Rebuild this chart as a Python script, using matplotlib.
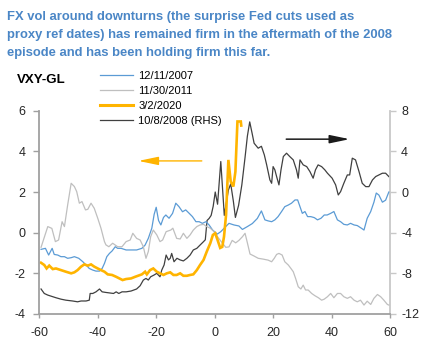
import matplotlib
matplotlib.use("Agg")
import matplotlib.pyplot as plt
from matplotlib import font_manager as fm
from matplotlib.lines import Line2D

# ---------------- data ----------------
title_lines = ["FX vol around downturns (the surprise Fed cuts used as",
               "proxy ref dates) has remained firm in the aftermath of the 2008",
               "episode and has been holding firm this far."]
y_label = "VXY-GL"
legend_labels = ["12/11/2007", "11/30/2011", "3/2/2020", "10/8/2008 (RHS)"]
x_ticks = [-60, -40, -20, 0, 20, 40, 60]
left_ticks = [-4, -2, 0, 2, 4, 6]
right_ticks = [-12, -8, -4, 0, 4, 8]

# 12/11/2007 (LHS)
blue_x = [-59.4, -57.9, -56.8, -55.6, -54.9, -53.7, -52.6, -51.4, -50.3, -49.1, -48, -46.5, -45.1, -44,
          -42.9, -41.7, -40.6, -39.4, -38.5, -37.7, -36.9, -36, -35.1, -34, -33.2, -32, -30.3, -28.6,
          -26.7, -24.9, -23.8, -22.7, -21.5, -20.7, -20, -19.2, -18.4, -17.5, -16.7, -15.6, -14.4, -13.3,
          -12.2, -11, -9.9, -8.7, -7.6, -6.4, -5.3, -4.2, -3, -1.9, -0.7, 0.9, 2.1, 3.8, 4.9, 6.6, 8.3,
          9.5, 11.2, 12.9, 14.6, 16, 17.2, 18.3, 19.5, 20.6, 21.7, 22.9, 24, 25.2, 26.3, 27.5, 28.4,
          29.2, 30, 30.9, 31.8, 32.9, 34.1, 35.2, 36.4, 37.5, 38.5, 39.7, 40.8, 42, 43.1, 44.2, 45.4,
          46.5, 47.7, 48.8, 50.3, 51.1, 52.2, 53.4, 54.5, 55.3, 56.2, 57.4, 58.5, 59.6]
blue_y = [-0.82, -0.77, -1.1, -0.77, -1.07, -1.1, -1.18, -1.18, -1.26, -1.23, -1.18, -1.26, -1.43, -1.59,
          -1.76, -1.84, -1.89, -1.89, -1.76, -1.51, -1.18, -1.02, -0.9, -0.69, -0.77, -0.77, -0.85, -0.85,
          -0.85, -0.77, -0.61, -0.28, 0.22, 0.9, 1.25, 0.6, 0.38, 0.75, 0.87, 0.71, 0.95, 1.45,
          1.28, 1.03, 1.12, 0.95, 0.79, 0.54, 0.54, 0.46, 0.54, 0.38, 0.13, -0.07, 0.05, 0.3, 0.46, 0.38, 0.33,
          0.16, 0.3, 0.45, 0.7, 1.07, 0.63, 0.58, 0.54, 0.63, 0.79, 1.04, 1.28, 1.36, 1.45, 1.61, 1.61,
          1.28, 0.95, 1.04, 0.79, 0.79, 0.74, 0.63, 0.71, 0.87, 0.87, 0.95, 1.04, 0.63, 0.54, 0.41, 0.38,
          0.46, 0.38, 0.35, 0.21, 0.13, 0.71, 1.04, 1.5, 1.95, 1.85, 1.5, 1.6, 2.0]

# 11/30/2011 (LHS)
gray_x = [-59.4, -57.1, -55.7, -54.5, -53.4, -52.2, -51.4, -50.3, -49.1, -48, -47.2, -46.3, -45.4, -44.2,
          -43.4, -42.3, -41.2, -40, -38.9, -37.7, -37.2, -36.2, -34.9, -33.2, -31.7, -30.3, -28.9, -28,
          -26.7, -25.5, -24.4, -23.5, -22.7, -21.9, -21, -19.8, -18.7, -17.8, -16.6, -15, -14.3, -13,
          -11.8, -10.7, -9.5, -8.4, -7.3, -6.1, -5, -3.8, -2.7, -1.5, -0.4, 0.5, 1.5, 2.6, 3.8, 4.9, 6,
          7.2, 8.3, 9.5, 10.4, 11.2, 12.1, 13.5, 14.9, 16.6, 18.3, 19.5, 20.4, 21.2, 22, 23.1, 24, 25.2,
          26.1, 26.9, 27.7, 28.6, 29.5, 30.3, 31.1, 32, 33.2, 34.3, 35.5, 36.6, 37.5, 38.6, 39.7, 40.8,
          42, 43.1, 44.2, 45.4, 46.5, 47.7, 48.8, 49.9, 51.1, 52.2, 53.4, 54.5, 55.7, 56.8, 57.9, 59.1, 59.6]
gray_y = [-0.72, 0.3, 0.21, -0.44, -0.36, 0.54, 0.3, 1.36, 2.43, 2.27, 2.02, 1.45, 1.53, 1.12,
          1.15, 1.45, 1.2, 0.71, 0.22, -0.44, -0.6, -0.69, -0.52, -0.69, -0.69, -0.44, -0.36, -0.03,
          -0.28, -0.36, -0.69, -1.26, -0.93, -0.2, 0.13, -0.11, -0.44, -0.36, 0.05, 0.13, 0.22, -0.28,
          -0.31, -0.03, -0.28, -0.11, 0.13, 0.3, 0.38, 0.41, 0.3, 0.22, 0.08, -0.1, -0.3, -0.5, -0.72, -0.7, -0.38,
          -0.5, -0.38, -0.2, -0.03, -0.5, -1.05, -1.15, -1.26, -1.3, -1.35, -1.43, -1.26, -1.07, -1.02, -1.1, -1.43, -1.59,
          -1.76, -1.92, -2.25, -2.66, -2.77, -2.58, -2.82, -2.82, -2.99, -3.1, -3.2, -3.32, -3.27, -3.15, -2.99, -3.2,
          -2.99, -2.99, -3.15, -3.23, -3.15, -3.32, -3.4, -3.32, -3.56, -3.37, -3.53, -3.23, -3.04, -3.15, -3.32, -3.53, -3.56]

# 3/2/2020 (LHS)
orange_x = [-59.4, -58.3, -57.5, -56.6, -55.4, -54.3, -52.6, -50.9, -49.1, -48, -46.9, -45.7, -44.6, -43.4,
            -42.3, -41.2, -40, -38.9, -37.7, -36.6, -35.1, -33.7, -32.6, -31.5, -30.3, -28.6, -27.2, -24.9,
            -23.8, -23.2, -22.1, -21, -19.8, -18.7, -17.5, -16.4, -15.2, -14.1, -13, -11.8, -10.7, -9.5,
            -8.4, -7.3, -6.1, -5, -3.8, -2.7, -1.5, -0.6, 0.2, 1, 1.9, 2.6, 3.2, 3.9, 4.7, 5.5, 6.4, 7.1,
            7.8, 8.95, 9.1]
orange_y = [-1.48, -1.59, -1.76, -1.62, -1.79, -1.76, -1.84, -1.92, -2.0, -1.95, -1.84, -1.67, -1.56, -1.62,
            -1.56, -1.67, -1.76, -1.84, -1.92, -2.05, -2.08, -2.17, -2.25, -2.33, -2.28, -2.25, -2.17, -2.05,
            -1.92, -2.05, -1.84, -1.76, -1.92, -2.0, -2.08, -2.0, -1.95, -2.08, -2.08, -2.0, -2.12, -2.12,
            -2.08, -2.05, -1.84, -1.59, -1.34, -0.93, -0.52, -0.11, -0.03, -0.36, -0.75, -0.7, -0.2, 0.87,
            3.58, 2.51, 2.27, 3.0, 5.47, 5.47, 5.27]

# 10/8/2008 (RHS)
black_x = [-59.4, -58.3, -57.1, -54.3, -52.6, -50.9, -48.6, -46.9, -45.7, -44, -42.9, -42.6, -41.7, -40.6,
           -39.4, -38.5, -37.2, -34.6, -33.7, -32.8, -31.7, -30.3, -28.6, -26.7, -25.5, -24.4, -23.5, -22.7,
           -21.9, -20.7, -19.8, -18.7, -18.1, -17.3, -16.6, -15.8, -15.2, -14.7, -13.9, -12.9, -11.8, -10.7,
           -9.5, -8.4, -7.3, -6.1, -5, -3.8, -3.2, -2.6, -1.9, -1.2, -0.5, 0.2, 1.0, 2.1, 3.3, 4.7, 5.5,
           6.4, 7.1, 8.2, 9.3, 10.4, 11.2, 12, 12.8, 13.5, 14.9, 16, 17, 17.8, 18.9, 19.5, 20, 20.6, 21.2,
           22, 22.7, 23.5, 24.6, 25.7, 26.9, 28, 28.6, 29.2, 30.3, 31.5, 32.6, 33.7, 34.5, 35.4, 36.6, 37.7,
           38.6, 40.2, 41.4, 42.3, 43.1, 44.2, 45.4, 46.2, 47.1, 48.2, 49.4, 50.5, 51.7, 52.8, 54, 55.1,
           56.2, 57.4, 58.5, 59.6]
black_y = [-9.54, -9.98, -10.14, -10.4, -10.54, -10.64, -10.72, -10.8, -10.72, -10.72, -10.64, -9.98, -9.98, -9.82,
           -9.54, -9.82, -9.88, -9.98, -9.82, -9.98, -9.82, -9.82, -9.74, -9.54, -9.22, -8.66, -8.5, -8.66,
           -8.34, -8.16, -8.0, -8.34, -7.68, -7.18, -6.2, -6.68, -6.52, -6.04, -6.86, -6.52, -6.68, -6.78,
           -6.52, -6.2, -5.7, -5.54, -5.22, -4.88, -4.7, -2.8, -2.6, -2.3, -1.4, 0.0, -1.2, 3.0, -2.3, 0.2, 0.8,
           -0.9, -2.5, -1.3, 0.7, 3.4, 5.5, 6.9, 5.8, 4.8, 4.31, 4.5, 3.65, 2.67, 1.19, 0.86, 2.5, 2.18, 1.52,
           0.7, 2.18, 3.49, 3.82, 3.49, 3.16, 2.18, 1.36, 3.16, 2.67, 2.5, 2.01, 1.36, 2.18, 2.67, 2.5, 2.18,
           1.85, 1.36, 0.7, -0.29, 0.04, 0.86, 1.68, 1.68, 3.33, 3.16, 2.01, 0.86, 0.53, 0.53, 1.19, 1.52,
           1.68, 1.85, 1.85, 1.52]

# ---------------- style ----------------
names = {f.name for f in fm.fontManager.ttflist}
base_font = "Liberation Sans" if "Liberation Sans" in names else "DejaVu Sans"
title_font = "Liberation Sans Narrow" if "Liberation Sans Narrow" in names else base_font
plt.rcParams["font.family"] = [base_font, "DejaVu Sans"]
plt.rcParams["axes.unicode_minus"] = False

c_blue = "#5B9BD5"
c_gray = "#BFBFBF"
c_orange = "#FFB400"
c_black = "#404040"
c_title = "#4A86C6"
c_spine = "#A0A0A0"

W, H = 429, 342
fig = plt.figure(figsize=(W / 100, H / 100), dpi=100)

ax1 = fig.add_axes([39.3 / W, 1 - 314 / H, (390 - 39.3) / W, (314 - 110.7) / H])
ax2 = ax1.twinx()
ax1.set_zorder(ax2.get_zorder() + 1)
ax1.patch.set_visible(False)

l_black, = ax2.plot(black_x, black_y, color=c_black, lw=0.9)
l_blue, = ax1.plot(blue_x, blue_y, color=c_blue, lw=0.9)
l_gray, = ax1.plot(gray_x, gray_y, color=c_gray, lw=0.9)
l_orange, = ax1.plot(orange_x, orange_y, color=c_orange, lw=1.9, solid_joinstyle="miter")

ax1.set_xlim(-60, 60)
ax1.set_ylim(-4, 6)
ax2.set_ylim(-12, 8)
ax1.set_xticks(x_ticks)
ax1.set_yticks(left_ticks)
ax2.set_yticks(right_ticks)

for a in (ax1, ax2):
    for s in a.spines.values():
        s.set_visible(False)
ax1.spines["left"].set_visible(True)
ax1.spines["bottom"].set_visible(True)
ax2.spines["right"].set_visible(True)
ax1.spines["left"].set_color(c_spine)
ax1.spines["bottom"].set_color(c_spine)
ax2.spines["right"].set_color("#C8C8C8")
for s in (ax1.spines["left"], ax1.spines["bottom"], ax2.spines["right"]):
    s.set_linewidth(1.3)

ax1.tick_params(axis="y", direction="out", length=4, width=1, color=c_spine, pad=6,
                labelsize=9, labelcolor="#262626")
ax1.tick_params(axis="x", direction="out", length=3, width=1, color=c_spine, pad=6,
                labelsize=9, labelcolor="#262626")
ax2.tick_params(axis="y", direction="out", length=4, width=1, color="#C8C8C8", pad=4,
                labelsize=9, labelcolor="#262626")

# arrows
ax1.annotate("", xy=(-26.1, 3.53), xytext=(-4.4, 3.53),
             arrowprops=dict(arrowstyle="-|>,head_length=1.2,head_width=0.25",
                             mutation_scale=10, color=c_orange, lw=1.0, shrinkA=0, shrinkB=0))
ax2.annotate("", xy=(46.2, 5.2), xytext=(24.5, 5.2),
             arrowprops=dict(arrowstyle="-|>,head_length=1.2,head_width=0.25",
                             mutation_scale=10, color="#1a1a1a", lw=1.1, shrinkA=0, shrinkB=0))

# title
fig.canvas.draw()
r = fig.canvas.get_renderer()
fs = 11
t1 = fig.text(7 / W, 1 - 20 / H, title_lines[0], fontsize=fs, fontweight="bold",
              color=c_title, family=[title_font, "DejaVu Sans"], va="baseline", ha="left")
w = t1.get_window_extent(r).width
fs = fs * 349 / w
t1.set_fontsize(fs)
for i, line in enumerate(title_lines[1:], start=1):
    fig.text(7 / W, 1 - (20 + 18 * i) / H, line, fontsize=fs, fontweight="bold",
             color=c_title, family=[title_font, "DejaVu Sans"], va="baseline", ha="left")

fig.text(16.5 / W, 1 - 83 / H, y_label, fontsize=9.5, fontweight="bold", color="black",
         va="baseline", ha="left")

handles = [Line2D([], [], color=c_blue, lw=0.9),
           Line2D([], [], color=c_gray, lw=0.9),
           Line2D([], [], color=c_orange, lw=2.2),
           Line2D([], [], color=c_black, lw=0.9)]
fig.legend(handles, legend_labels, loc="upper left", bbox_to_anchor=(100 / W, 1 - 71 / H),
           frameon=False, fontsize=8, handlelength=3.0, handletextpad=0.45,
           labelspacing=0.45, borderaxespad=0, borderpad=0)

fig.savefig("out.png", dpi=100)
